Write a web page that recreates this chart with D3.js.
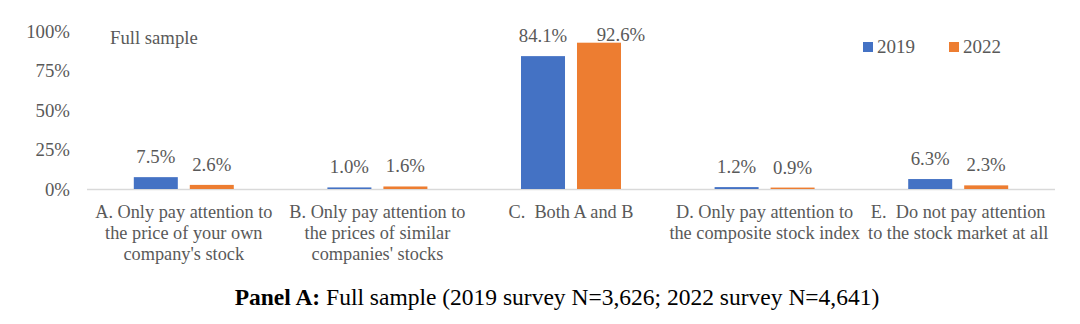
<!DOCTYPE html>
<html>
<head>
<meta charset="utf-8">
<script src="https://cdn.jsdelivr.net/npm/d3@7/dist/d3.min.js"></script>
<style>
  html, body { margin: 0; padding: 0; background: #fff; }
  svg { display: block; }
  text { font-family: "Liberation Serif", "DejaVu Serif", serif; white-space: pre; }
</style>
</head>
<body>
<svg id="chart" width="1080" height="324"></svg>
<script>
const categories = [
  "A. Only pay attention to\nthe price of your own\ncompany's stock",
  "B. Only pay attention to\nthe prices of similar\ncompanies' stocks",
  "C.  Both A and B",
  "D. Only pay attention to\nthe composite stock index",
  "E.  Do not pay attention\nto the stock market at all"
];
const seriesNames = ["2019", "2022"];
const values2019 = [7.5, 1.0, 84.1, 1.2, 6.3];
const values2022 = [2.6, 1.6, 92.6, 0.9, 2.3];
const yTicks = [0, 25, 50, 75, 100];
const colors = ["#4472C4", "#ED7D31"];
const subtitle = "Full sample";
const titleBold = "Panel A:";
const titleRest = " Full sample (2019 survey N=3,626; 2022 survey N=4,641)";

(function () {
const svg = d3.select("#chart");
const textColor = "#595959";
const mLeft = 87, mRight = 1055, mTop = 31, mBottom = 189;
const fs = 18.3;

const y = d3.scaleLinear().domain([0, 100]).range([mBottom, mTop]);
const x0 = d3.scaleBand().domain(categories).range([mLeft, mRight])
  .paddingInner(0.4835).paddingOuter(0.4835 / 2);
const x1 = d3.scaleBand().domain(seriesNames).range([0, x0.bandwidth()])
  .paddingInner(0.214).paddingOuter(0);

// y axis
const yAxis = svg.append("g").attr("transform", `translate(${mLeft},0)`)
  .call(d3.axisLeft(y).tickValues(yTicks).tickSize(0).tickPadding(17).tickFormat(d => d + "%"));
yAxis.select(".domain").remove();
yAxis.selectAll("text").attr("font-size", fs + 0.5).attr("fill", textColor)
  .attr("font-family", "Liberation Serif, serif").attr("dy", "0.34em");

// baseline
svg.append("line").attr("x1", mLeft).attr("x2", mRight)
  .attr("y1", y(0) + 0.5).attr("y2", y(0) + 0.5)
  .attr("stroke", "#D9D9D9").attr("stroke-width", 1.5);

// bars
const data = categories.map((c, i) => ({ cat: c, vals: [values2019[i], values2022[i]] }));
const groups = svg.append("g").selectAll("g").data(data).join("g")
  .attr("transform", d => `translate(${x0(d.cat)},0)`);

groups.selectAll("rect").data(d => d.vals.map((v, j) => ({ v, s: seriesNames[j], j })))
  .join("rect")
  .attr("x", d => x1(d.s))
  .attr("width", x1.bandwidth())
  .attr("y", d => y(d.v))
  .attr("height", d => y(0) - y(d.v))
  .attr("fill", d => colors[d.j]);

// data labels
groups.selectAll("text.lbl").data(d => d.vals.map((v, j) => ({ v, s: seriesNames[j], j })))
  .join("text").attr("class", "lbl")
  .each(function (d) {
    let by = y(d.v) - 14;
    let dx = 0;
    const minY = mTop + 10;
    if (by < minY) { by = minY; dx = 22; }
    d3.select(this)
      .attr("x", x1(d.s) + x1.bandwidth() / 2 + dx)
      .attr("y", by);
  })
  .attr("text-anchor", "middle")
  .attr("font-size", fs + 0.5)
  .attr("fill", textColor)
  .text(d => d.v.toFixed(1) + "%");

// category labels
svg.append("g").selectAll("text").data(categories).join("text")
  .attr("x", d => x0(d) + x0.bandwidth() / 2)
  .attr("y", 218)
  .attr("text-anchor", "middle")
  .attr("font-size", fs)
  .attr("fill", textColor)
  .each(function (d) {
    const lines = d.split("\n");
    d3.select(this).selectAll("tspan").data(lines).join("tspan")
      .attr("x", x0(d) + x0.bandwidth() / 2)
      .attr("dy", (l, i) => i === 0 ? 0 : 20.8)
      .text(l => l);
  });

// subtitle inside plot
svg.append("text").attr("x", 110).attr("y", 44)
  .attr("font-size", 18.7).attr("fill", textColor).text(subtitle);

// legend
const legend = svg.append("g");
const legendX = [863, 949];
seriesNames.forEach((s, i) => {
  legend.append("rect").attr("x", legendX[i]).attr("y", 42).attr("width", 10).attr("height", 10)
    .attr("fill", colors[i]);
  legend.append("text").attr("x", legendX[i] + 14).attr("y", 53)
    .attr("font-size", 19).attr("fill", textColor).text(s);
});

// title
const title = svg.append("text").attr("x", 557).attr("y", 305)
  .attr("text-anchor", "middle").attr("font-size", 23.5).attr("fill", "#000");
title.append("tspan").attr("font-weight", "bold").text(titleBold);
title.append("tspan").text(titleRest);
})();
</script>
</body>
</html>
